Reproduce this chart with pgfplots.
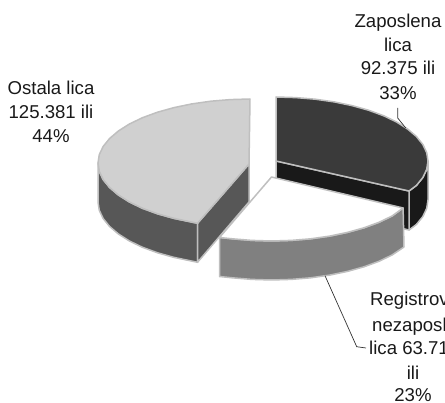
\documentclass[border=0pt]{standalone}
\usepackage{pgfplots}
\pgfplotsset{compat=1.18}
\usepackage{fontspec}
\setmainfont{Liberation Sans}
\definecolor{edge}{HTML}{BFBFBF}
\definecolor{lgray}{HTML}{D0D0D0}
\definecolor{dgray}{HTML}{575757}
\definecolor{dark}{HTML}{3A3A3A}
\definecolor{black1}{HTML}{191919}
\definecolor{mid}{HTML}{808080}
\tikzset{sl/.style={draw=edge,line join=round,line width=1.5pt,solid},
  lab/.style={font=\fontsize{18.6}{22}\selectfont,inner sep=0pt,text=black!90}}
\begin{document}
\begin{tikzpicture}
\path[use as bounding box,clip] (0,0) rectangle (445pt,403pt);
\begin{axis}[at={(0,0)},anchor=south west,scale only axis,width=445pt,height=403pt,
  xmin=0,xmax=445,ymin=0,ymax=403,y dir=reverse,hide axis,clip=false]
% Ostala lica
\addplot[sl,fill=dgray] coordinates {(98,163)(99.3,171.4)(103.2,179.6)(109.6,187.5)(118.4,195)(129.4,202)(142.5,208.3)(157.5,213.8)(174,218.4)(191.8,222.1)(197.5,223.3)(197.5,262.3)(191.8,261.1)(174,257.4)(157.5,252.8)(142.5,247.3)(129.4,241)(118.4,234)(109.6,226.5)(103.2,218.6)(99.3,210.4)(98,202)} --cycle;
\addplot[sl,fill=dgray] coordinates {(197.5,223.3)(249,164)(249,202)(197.5,262.3)} --cycle;
\addplot[sl,fill=lgray] coordinates {(250,99)(230.2,99.6)(210.7,101.2)(191.8,103.9)(174,107.6)(157.5,112.2)(142.5,117.7)(129.4,124)(118.4,131)(109.6,138.5)(103.2,146.4)(99.3,154.6)(98,163)(99.3,171.4)(103.2,179.6)(109.6,187.5)(118.4,195)(129.4,202)(142.5,208.3)(157.5,213.8)(174,218.4)(191.8,222.1)(197.5,223.3)(249,164)} --cycle;
% Zaposlena lica
\addplot[sl,fill=black1] coordinates {(428,161)(426.7,169.4)(422.8,177.6)(416.4,185.5)(409,191)(409,230)(416.4,224.5)(422.8,216.6)(426.7,208.4)(428,200)} --cycle;
\addplot[sl,fill=black1] coordinates {(276,161)(409,191)(409,230)(276,200)} --cycle;
\addplot[sl,fill=dark] coordinates {(276,97)(295.8,97.6)(315.3,99.2)(334.2,101.9)(352,105.6)(368.5,110.2)(383.5,115.7)(396.6,122)(407.6,129)(416.4,136.5)(422.8,144.4)(426.7,152.6)(428,161)(426.7,169.4)(422.8,177.6)(416.4,185.5)(409,191)(276,161)} --cycle;
% Registrovana nezaposlena lica
\addplot[sl,fill=mid] coordinates {(403.1,208)(392.1,216)(379,222.3)(364,227.8)(347.5,232.4)(329.7,236.1)(310.8,238.8)(291.3,240.4)(271.5,241)(251.7,240.4)(232.2,238.8)(219.5,237.5)(219.5,276.5)(232.2,277.8)(251.7,279.4)(271.5,280)(291.3,279.4)(310.8,277.8)(329.7,275.1)(347.5,271.4)(364,266.8)(379,261.3)(392.1,255)(404,247)} --cycle;
\addplot[sl,fill=white] coordinates {(271.5,177)(403.1,208)(392.1,216)(379,222.3)(364,227.8)(347.5,232.4)(329.7,236.1)(310.8,238.8)(291.3,240.4)(271.5,241)(251.7,240.4)(232.2,238.8)(219.5,237.5)} --cycle;
% leaders
\addplot[draw=black!80,line width=0.7pt] coordinates {(397.7,108)(397.7,118)(405.7,128)};
\addplot[draw=black!80,line width=0.7pt] coordinates {(325,275.7)(356.7,346.7)(366,348)};
% labels
\node[lab,anchor=base] at (axis cs:398,28) {Zaposlena};
\node[lab,anchor=base] at (axis cs:398,52) {lica};
\node[lab,anchor=base] at (axis cs:398,75) {92.375 ili};
\node[lab,anchor=base] at (axis cs:398,100) {33\%};
\node[lab,anchor=base] at (axis cs:51,95) {Ostala lica};
\node[lab,anchor=base] at (axis cs:51,119) {125.381 ili};
\node[lab,anchor=base] at (axis cs:51,143) {44\%};
\node[lab,anchor=base west] at (axis cs:370,306) {Registrov};
\node[lab,anchor=base west] at (axis cs:372,332) {nezaposl};
\node[lab,anchor=base west] at (axis cs:369,355) {lica 63.71};
\node[lab,anchor=base] at (axis cs:413,380) {ili};
\node[lab,anchor=base] at (axis cs:413,402) {23\%};
\end{axis}
\end{tikzpicture}
\end{document}
